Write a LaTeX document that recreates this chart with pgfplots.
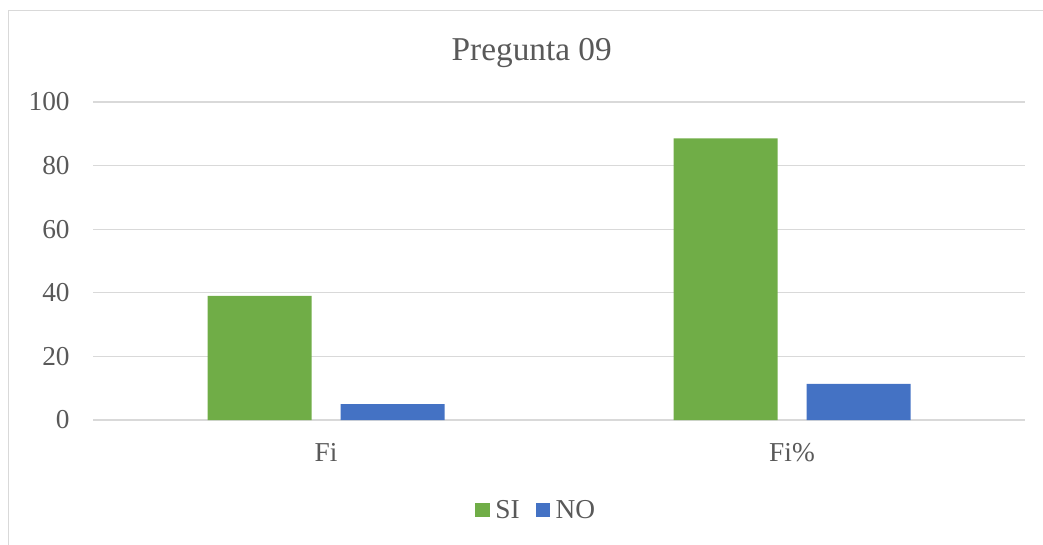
\documentclass[border=0pt]{standalone}
\usepackage{pgfplots}
\pgfplotsset{compat=1.18}
\usepackage{fontspec}
\setmainfont{Liberation Serif}
\definecolor{cgreen}{HTML}{70AD47}
\definecolor{cblue}{HTML}{4472C4}
\definecolor{ctext}{HTML}{595959}
\definecolor{cgrid}{HTML}{D9D9D9}
\begin{document}
\begin{tikzpicture}
\useasboundingbox (0,0) rectangle (782.25pt,408pt);
\draw[cgrid, line width=1.2pt] (6.375pt,-2pt) -- (6.375pt,400.1pt) -- (785pt,400.1pt);
\begin{axis}[
  at={(69.75pt,93pt)}, anchor=south west,
  scale only axis,
  width=699pt, height=238.5pt,
  ybar=21.75pt, bar width=78pt,
  xmin=-0.5, xmax=1.5,
  ymin=0, ymax=100,
  ytick={0,20,40,60,80,100},
  xtick=data,
  xticklabels={Fi,Fi\%},
  axis line style={draw=none},
  major tick length=0pt,
  ymajorgrids,
  grid style={cgrid, line width=1pt},
  tick label style={font=\fontsize{20.5}{24}\selectfont, text=ctext},
  /pgf/number format/assume math mode=true,
  yticklabel style={xshift=-14pt},
  xticklabel style={yshift=-14pt},
  legend style={at={(rel axis cs:0.476,-0.283)}, anchor=center, draw=none,
    legend columns=-1, font=\fontsize{20.5}{24}\selectfont, text=ctext,
    /tikz/every odd column/.append style={column sep=2pt},
    /tikz/every even column/.append style={column sep=10pt}},
  legend image code/.code={\fill[#1] (0pt,-5.5pt) rectangle (11pt,5.5pt);},
]
\addplot[fill=cgreen, draw=none] coordinates {(0,39) (1,88.6)};
\addplot[fill=cblue, draw=none] coordinates {(0,5) (1,11.4)};
\legend{SI,NO}
\end{axis}
\node[anchor=base, text=ctext, font=\fontsize{25}{30}\selectfont] at (398.8pt,362.5pt) {Pregunta 09};
\end{tikzpicture}
\end{document}
